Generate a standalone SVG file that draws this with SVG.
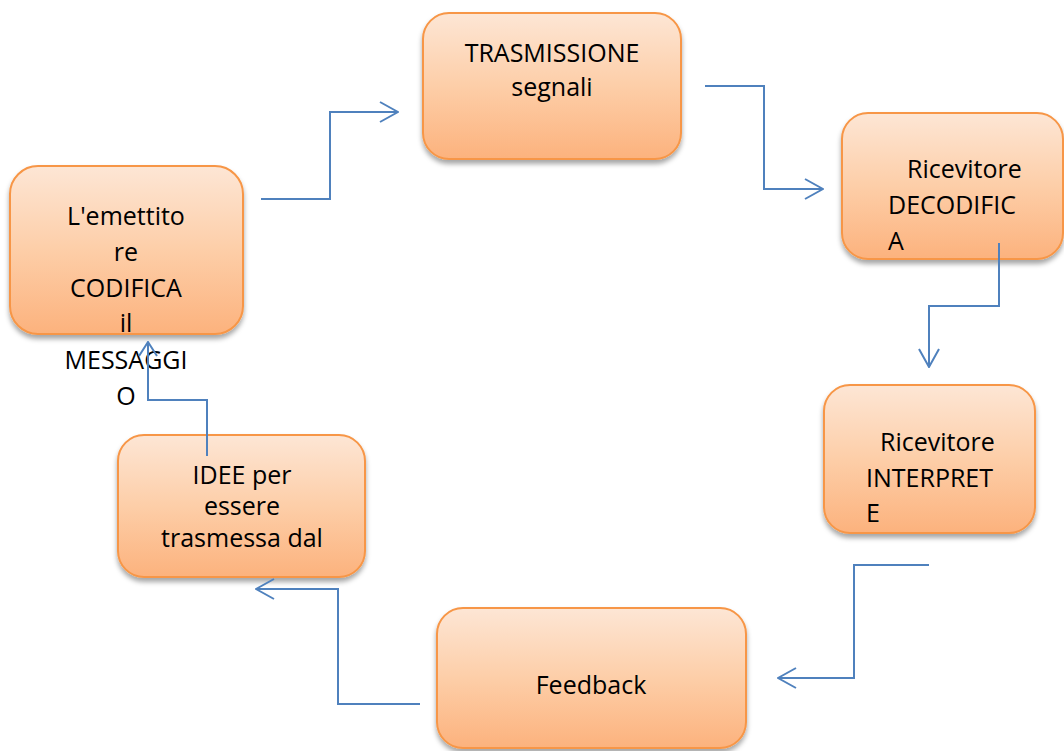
<svg xmlns="http://www.w3.org/2000/svg" width="1064" height="751" viewBox="0 0 1064 751">
  <defs>
    <linearGradient id="boxGrad" x1="0" y1="0" x2="0" y2="1">
      <stop offset="0" stop-color="#FDE6D5"/>
      <stop offset="0.5" stop-color="#FDCEA8"/>
      <stop offset="1" stop-color="#FCB27D"/>
    </linearGradient>
    <filter id="shadow" x="-10%" y="-10%" width="120%" height="130%">
      <feDropShadow dx="0" dy="4" stdDeviation="2.5" flood-color="#000" flood-opacity="0.35"/>
    </filter>
    <marker id="arrow" viewBox="0 0 20 22" refX="19" refY="11" markerWidth="20" markerHeight="22" markerUnits="userSpaceOnUse" orient="auto">
      <path d="M1,1 L19,11 L1,21" fill="none" stroke="#4F81BD" stroke-width="2"/>
    </marker>
    <marker id="arrowSmall" viewBox="0 0 16 20" refX="15" refY="10" markerWidth="16" markerHeight="20" markerUnits="userSpaceOnUse" orient="auto">
      <path d="M1,1 L15,10 L1,19" fill="none" stroke="#4F81BD" stroke-width="2"/>
    </marker>
  </defs>
  <style>
    .box { fill: url(#boxGrad); stroke: #F79646; stroke-width: 2; filter: url(#shadow); }
    .lbl { font-family: "Open Sans", "Liberation Sans", sans-serif; font-size: 25px; fill: #000; }
    .mid { text-anchor: middle; }
    .conn { fill: none; stroke: #4F81BD; stroke-width: 2; }
  </style>
  <rect width="1064" height="751" fill="#fff"/>

  <g id="node-emettitore">
    <rect class="box" x="10" y="166" width="233" height="168" rx="28" ry="28"/>
    <text class="lbl mid" x="126" y="225">L'emettito</text>
    <text class="lbl mid" x="126" y="261">re</text>
    <text class="lbl mid" x="126" y="297">CODIFICA</text>
    <text class="lbl mid" x="126" y="332">il</text>
    <text class="lbl mid" x="126" y="369">MESSAGGI</text>
    <text class="lbl mid" x="126" y="405">O</text>
  </g>

  <g id="node-trasmissione">
    <rect class="box" x="423" y="13" width="258" height="146" rx="26" ry="26"/>
    <text class="lbl mid" x="552" y="62">TRASMISSIONE</text>
    <text class="lbl mid" x="552" y="96">segnali</text>
  </g>

  <g id="node-decodifica">
    <rect class="box" x="842" y="113" width="221" height="146" rx="26" ry="26"/>
    <text class="lbl" x="907" y="178">Ricevitore</text>
    <text class="lbl" x="888" y="214">DECODIFIC</text>
    <text class="lbl" x="888" y="250">A</text>
  </g>

  <g id="node-interprete">
    <rect class="box" x="824" y="385" width="211" height="148" rx="26" ry="26"/>
    <text class="lbl" x="880" y="451">Ricevitore</text>
    <text class="lbl" x="866" y="487">INTERPRET</text>
    <text class="lbl" x="866" y="522">E</text>
  </g>

  <g id="node-feedback">
    <rect class="box" x="437" y="608" width="309" height="140" rx="26" ry="26"/>
    <text class="lbl mid" x="591" y="694">Feedback</text>
  </g>

  <g id="node-idee">
    <rect class="box" x="118" y="435" width="247" height="142" rx="26" ry="26"/>
    <text class="lbl mid" x="242" y="484">IDEE per</text>
    <text class="lbl mid" x="242" y="515">essere</text>
    <text class="lbl mid" x="242" y="547">trasmessa dal</text>
  </g>

  <g id="connectors">
    <path class="conn" d="M261,199 H330 V112 H398" marker-end="url(#arrow)"/>
    <path class="conn" d="M705,86 H764 V189 H823" marker-end="url(#arrow)"/>
    <path class="conn" d="M999,243 V306 H929 V367" marker-end="url(#arrow)"/>
    <path class="conn" d="M929,565 H854 V678 H778" marker-end="url(#arrow)"/>
    <path class="conn" d="M420,704 H338 V589 H256" marker-end="url(#arrow)"/>
    <path class="conn" d="M207,456 V400 H148 V342" marker-end="url(#arrowSmall)"/>
  </g>
</svg>
